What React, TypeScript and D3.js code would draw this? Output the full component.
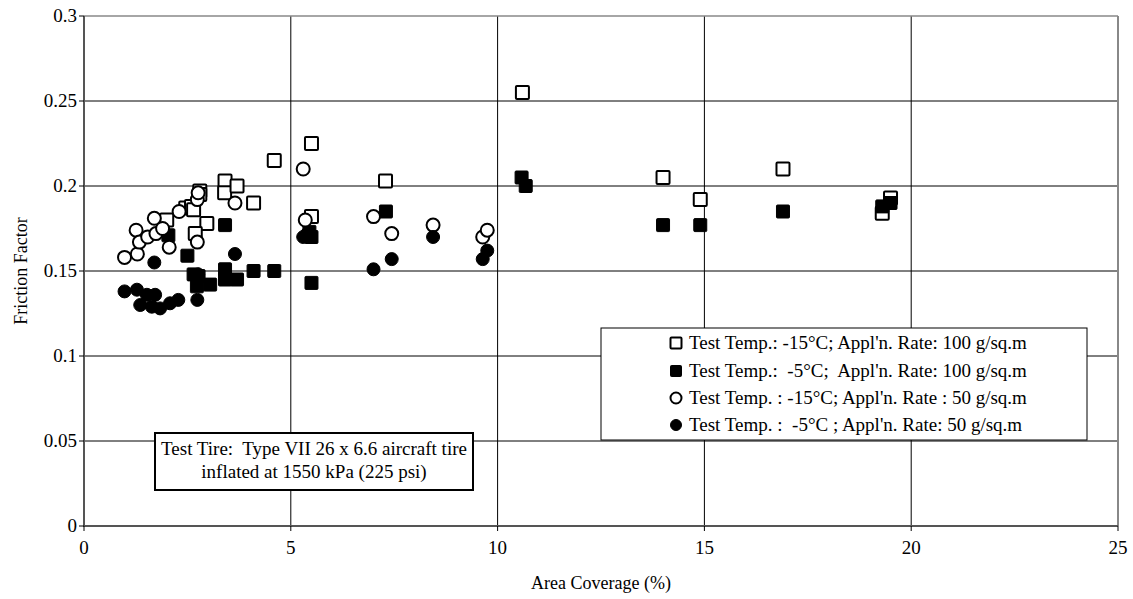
import React from "react";
import * as d3 from "d3";

// Area coverage (%) and friction factor for each test condition
const sqOpenX = [2.0, 2.46, 2.6, 2.65, 2.8, 2.8, 2.97, 2.69, 3.41, 3.4, 3.7, 4.1, 4.6, 5.5, 5.5, 7.29, 10.6, 14.0, 14.9, 16.9, 19.3, 19.5];
const sqOpenY = [0.18, 0.187, 0.188, 0.186, 0.197, 0.195, 0.178, 0.172, 0.203, 0.196, 0.2, 0.19, 0.215, 0.225, 0.182, 0.203, 0.255, 0.205, 0.192, 0.21, 0.184, 0.193];

const sqFillX = [2.04, 2.5, 2.65, 2.77, 2.73, 3.05, 3.41, 3.41, 3.41, 3.7, 4.1, 4.6, 5.45, 5.5, 5.5, 7.3, 10.58, 10.68, 14.0, 14.9, 16.9, 19.3, 19.5];
const sqFillY = [0.171, 0.159, 0.148, 0.147, 0.141, 0.142, 0.177, 0.151, 0.145, 0.145, 0.15, 0.15, 0.173, 0.17, 0.143, 0.185, 0.205, 0.2, 0.177, 0.177, 0.185, 0.188, 0.19];

const cirOpenX = [0.98, 1.26, 1.29, 1.34, 1.54, 1.7, 1.74, 1.9, 2.06, 2.3, 2.74, 2.76, 2.74, 3.65, 5.3, 5.35, 7.0, 7.44, 8.44, 9.64, 9.75];
const cirOpenY = [0.158, 0.174, 0.16, 0.167, 0.17, 0.181, 0.172, 0.175, 0.164, 0.185, 0.192, 0.196, 0.167, 0.19, 0.21, 0.18, 0.182, 0.172, 0.177, 0.17, 0.174];

const cirFillX = [0.98, 1.28, 1.36, 1.52, 1.64, 1.72, 1.7, 1.84, 2.08, 2.28, 2.74, 2.76, 3.65, 5.3, 5.4, 7.0, 7.44, 8.44, 9.64, 9.75];
const cirFillY = [0.138, 0.139, 0.13, 0.136, 0.129, 0.136, 0.155, 0.128, 0.131, 0.133, 0.133, 0.148, 0.16, 0.17, 0.172, 0.151, 0.157, 0.17, 0.157, 0.162];

const xTicks = [0, 5, 10, 15, 20, 25];
const yTicks = [0, 0.05, 0.1, 0.15, 0.2, 0.25, 0.3];

const legendLabels = [
  "Test Temp.: -15°C; Appl'n. Rate: 100 g/sq.m",
  "Test Temp.:  -5°C;  Appl'n. Rate: 100 g/sq.m",
  "Test Temp. : -15°C; Appl'n. Rate : 50 g/sq.m",
  "Test Temp. :  -5°C ; Appl'n. Rate: 50 g/sq.m",
];
const noteLines = ["Test Tire:  Type VII 26 x 6.6 aircraft tire", "inflated at 1550 kPa (225 psi)"];

const W = 1133;
const H = 599;
const M = { left: 84, right: 1118, top: 16, bottom: 526 };
const FONT = "'Liberation Serif', 'Times New Roman', serif";

type Kind = "sqOpen" | "sqFill" | "cirOpen" | "cirFill";

function Marker({ kind, cx, cy, s = 13 }: { kind: Kind; cx: number; cy: number; s?: number }) {
  const open = kind === "sqOpen" || kind === "cirOpen";
  const fill = open ? "#fff" : "#000";
  if (kind === "sqOpen" || kind === "sqFill") {
    return (
      <rect x={cx - s / 2} y={cy - s / 2} width={s} height={s} fill={fill} stroke="#000" strokeWidth={open ? 2 : 1} rx={1} />
    );
  }
  return <circle cx={cx} cy={cy} r={s / 2} fill={fill} stroke="#000" strokeWidth={open ? 2 : 1} />;
}

export default function App() {
  const x = d3.scaleLinear().domain([0, 25]).range([M.left, M.right]);
  const y = d3.scaleLinear().domain([0, 0.3]).range([M.bottom, M.top]);

  const series: { kind: Kind; xs: number[]; ys: number[] }[] = [
    { kind: "sqOpen", xs: sqOpenX, ys: sqOpenY },
    { kind: "sqFill", xs: sqFillX, ys: sqFillY },
    { kind: "cirOpen", xs: cirOpenX, ys: cirOpenY },
    { kind: "cirFill", xs: cirFillX, ys: cirFillY },
  ];
  const legendKinds: Kind[] = ["sqOpen", "sqFill", "cirOpen", "cirFill"];
  const legendRows = [343, 371, 398, 425];

  return (
    <div style={{ position: "absolute", left: 0, top: 0 }}>
      <svg width={W} height={H} style={{ display: "block", background: "#fff" }} fontFamily={FONT}>
        {/* grid */}
        {yTicks.filter((t) => t > 0 && t < 0.3).map((t) => (
          <line key={"gy" + t} x1={M.left} x2={M.right} y1={y(t)} y2={y(t)} stroke="#000" strokeWidth={1} />
        ))}
        {xTicks.filter((t) => t > 0 && t < 25).map((t) => (
          <line key={"gx" + t} x1={x(t)} x2={x(t)} y1={M.top} y2={M.bottom} stroke="#000" strokeWidth={1} />
        ))}
        {/* frame */}
        <line x1={M.left} x2={M.right} y1={M.top} y2={M.top} stroke="#888" strokeWidth={1.5} />
        <line x1={M.right} x2={M.right} y1={M.top} y2={M.bottom} stroke="#888" strokeWidth={2} />
        <line x1={M.left} x2={M.left} y1={M.top} y2={M.bottom + 1} stroke="#555" strokeWidth={2} />
        <line x1={M.left - 1} x2={M.right} y1={M.bottom} y2={M.bottom} stroke="#555" strokeWidth={2} />
        {/* y axis ticks and labels */}
        {yTicks.map((t) => (
          <g key={"yt" + t}>
            <line x1={M.left - 5} x2={M.left} y1={y(t)} y2={y(t)} stroke="#000" />
            <text x={M.left - 7} y={y(t)} dy="0.33em" textAnchor="end" fontSize={19}>
              {d3.format("")(+t.toFixed(2))}
            </text>
          </g>
        ))}
        {/* x axis ticks and labels */}
        {xTicks.map((t) => (
          <g key={"xt" + t}>
            <line x1={x(t)} x2={x(t)} y1={M.bottom} y2={M.bottom + 5} stroke="#000" />
            <text x={x(t)} y={M.bottom + 22} dy="0.33em" textAnchor="middle" fontSize={19}>
              {t}
            </text>
          </g>
        ))}
        <text x={(M.left + M.right) / 2} y={583} dy="0.33em" textAnchor="middle" fontSize={18}>
          Area Coverage (%)
        </text>
        <text transform={`translate(21,${(M.top + M.bottom) / 2}) rotate(-90)`} dy="0.33em" textAnchor="middle" fontSize={18}>
          Friction Factor
        </text>

        {/* data points */}
        {series.map((s) =>
          s.xs.map((v, i) => <Marker key={s.kind + i} kind={s.kind} cx={x(v)} cy={y(s.ys[i])} />)
        )}

        {/* legend */}
        <rect x={601} y={328} width={486} height={112} fill="#fff" stroke="#000" strokeWidth={1} />
        {legendKinds.map((k, i) => (
          <g key={"lg" + k}>
            <Marker kind={k} cx={676} cy={legendRows[i]} s={11} />
            <text x={689} y={legendRows[i]} dy="0.33em" fontSize={19} style={{ whiteSpace: "pre" }}>
              {legendLabels[i]}
            </text>
          </g>
        ))}

        {/* test tire note */}
        <rect x={155} y={433} width={318} height={57} fill="#fff" stroke="#000" strokeWidth={2} />
        {noteLines.map((l, i) => (
          <text key={"nt" + i} x={314} y={449 + i * 23} dy="0.33em" textAnchor="middle" fontSize={19} style={{ whiteSpace: "pre" }}>
            {l}
          </text>
        ))}
      </svg>
    </div>
  );
}
